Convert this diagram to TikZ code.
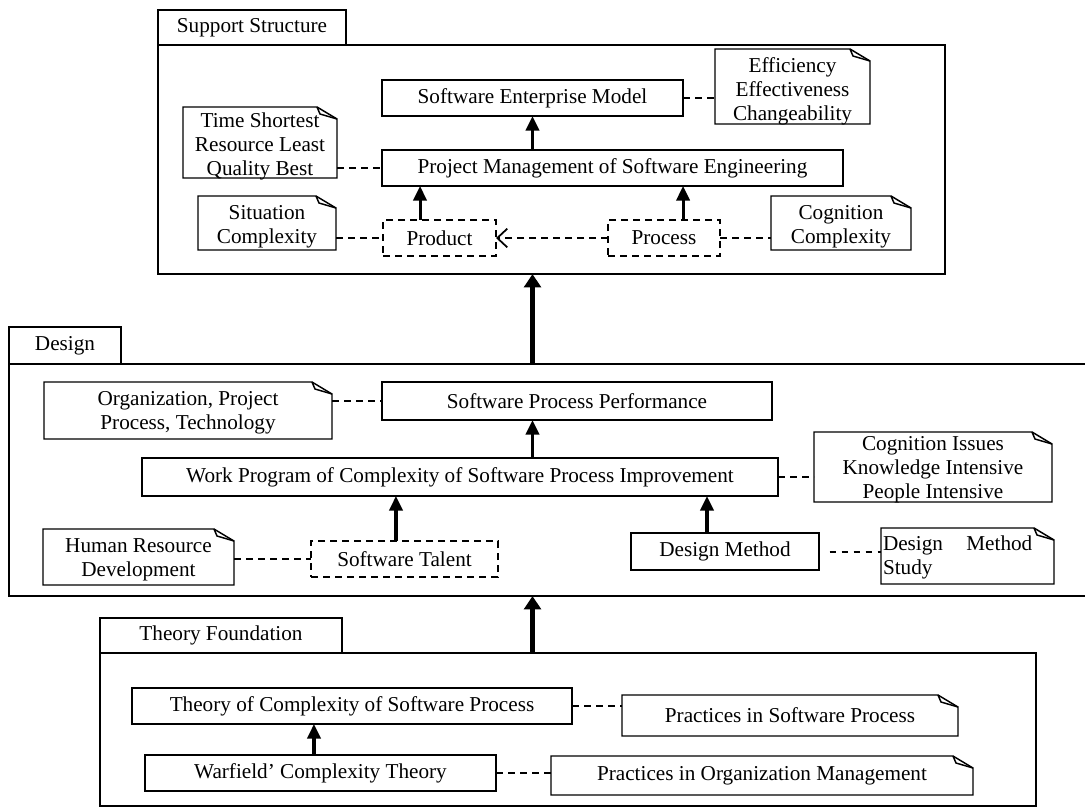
\documentclass[tikz,border=0pt]{standalone}
\usepackage{fontspec}
\setmainfont{Liberation Serif}
\usetikzlibrary{arrows.meta}

% place a rectangular node by its left, top, right and bottom edges (in px)
\newcommand\pxnode[7]{%
  \node[#6, minimum width={(#4-#2)*0.75pt}, minimum height={(#5-#3)*0.75pt}]
    (#1) at ({(#2+#4)/2},{(#3+#5)/2}) {#7};}

% outline of a note: rectangle with a dog-ear fold at the top right corner
\newcommand\noteoutline[1]{%
  \draw[frame] (#1.south west) -- (#1.north west) -- ([xshift=-15pt]#1.north east)
    -- ([yshift=-9pt]#1.north east) -- (#1.south east) -- cycle;
  \draw[frame] ([xshift=-15pt]#1.north east) -- ([xshift=-12.75pt,yshift=-5.25pt]#1.north east)
    -- ([yshift=-9pt]#1.north east);}

% a note: outline node plus its text, set slightly below the middle
\newcommand\notebox[7][2.25pt]{%
  \pxnode{#2}{#3}{#4}{#5}{#6}{}{}
  \noteoutline{#2}
  \node[notetext, yshift=-#1] (#2-text) at (#2.center) {#7};}

\begin{document}
\begin{tikzpicture}[x=0.75pt,y=-0.75pt,
  every node/.style={font=\fontsize{15.9pt}{18pt}\selectfont, inner sep=0pt, outer sep=0pt},
  frame/.style={draw, line width=1.1pt, line join=miter},
  box/.style={frame, align=center},
  dbox/.style={draw, line width=1.3pt, dash pattern=on 5.5pt off 3.5pt, align=center},
  notetext/.style={align=center},
  tab/.style={frame},
  link/.style={line width=1.5pt, dash pattern=on 5pt off 4pt},
  openarrow/.style={-{Straight Barb[length=7.5pt,width=14pt,line width=1.3pt]}},
  flow/.style={line width=2.3pt, -{Triangle[length=11pt,width=10pt]}},
  bigflow/.style={line width=3.6pt, -{Triangle[length=10pt,width=12.5pt]}}]
\useasboundingbox (0,0) rectangle (1085,808);

% ---------------- Support Structure package ----------------
\pxnode{supptab}{158}{10}{346}{45}{tab}{Support Structure}
\pxnode{supp}{158}{45}{945}{274}{frame}{}

\pxnode{sem}{382}{80}{683}{116}{box}{Software Enterprise Model}
\pxnode{pm}{382}{150}{843}{186}{box}{Project Management of Software Engineering}
\pxnode{product}{383}{220}{496}{256}{dbox}{Product}
\pxnode{process}{608}{220}{720}{256}{dbox}{Process}

\notebox[3.8pt]{eff}{715}{49}{870}{124}{Efficiency\\Effectiveness\\Changeability}
\notebox[2.6pt]{time}{183}{107}{337}{178}{Time Shortest\\Resource Least\\Quality Best}
\notebox[3pt]{sit}{198}{196}{336}{250}{Situation\\Complexity}
\notebox[3pt]{cog}{771}{196}{911}{250}{Cognition\\Complexity}

\draw[flow] (sem |- pm.north) -- (sem.south);
\draw[flow] ([xshift=-14.6pt]product.north) -- ([xshift=-14.6pt]product.north |- pm.south);
\draw[flow] ([xshift=14.3pt]process.north) -- ([xshift=14.3pt]process.north |- pm.south);
\draw[link] (sem.east) -- (eff.west |- sem.east);
\draw[link] (time.east |- pm.west) -- (pm.west);
\draw[link] (sit.east |- product.west) -- (product.west);
\draw[link, openarrow] (process.west) -- (product.east);
\draw[link] (process.east) -- (cog.west |- process.east);

% ---------------- Design package ----------------
\pxnode{designtab}{9}{327}{121}{364}{tab}{Design}
\pxnode{design}{9}{364}{1085}{596}{}{}
\draw[frame] (design.north east) -- (design.north west) -- (design.south west) -- (design.south east);

\pxnode{spp}{382}{382}{772}{420}{box}{Software Process Performance}
\pxnode{wp}{142}{458}{778}{496}{box}{Work Program of Complexity of Software Process Improvement}
\pxnode{talent}{311}{541}{498}{577}{dbox}{Software Talent}
\pxnode{dm}{631}{533}{819}{570}{box}{Design Method}

\notebox[1.8pt]{org}{44}{382}{332}{439}{Organization, Project\\Process, Technology}
\notebox[1.8pt]{cogi}{814}{432}{1052}{502}{Cognition Issues\\Knowledge Intensive\\People Intensive}
\notebox[1.8pt]{hr}{43}{529}{234}{585}{Human Resource\\Development}
\pxnode{dms}{881}{528}{1054}{584}{}{}
\noteoutline{dms}
\node[anchor=west, xshift=1.5pt, yshift=-0.8pt] (dms-text) at (dms.west)
  {\parbox{112pt}{\raggedright Design\hfill Method\\Study}};

\draw[flow] (sem |- wp.north) -- (sem |- spp.south);
\draw[flow] ([xshift=-6.4pt]talent.north) -- ([xshift=-6.4pt]talent.north |- wp.south);
\draw[flow] ([xshift=-13.5pt]dm.north) -- ([xshift=-13.5pt]dm.north |- wp.south);
\draw[link] (org.east |- spp.west) -- (spp.west);
\draw[link] (wp.east) -- (cogi.west |- wp.east);
\draw[link] (hr.east |- talent.west) -- (talent.west);
\draw[link] ([xshift=8pt]dm.east) -- (dms.west |- dm.east);

% ---------------- Theory Foundation package ----------------
\pxnode{theotab}{100}{618}{342}{653}{tab}{Theory Foundation}
\pxnode{theo}{100}{653}{1036}{806}{frame}{}

\pxnode{toc}{132}{688}{572}{724}{box}{Theory of Complexity of Software Process}
\pxnode{warf}{145}{755}{496}{791}{box}{Warfield’ Complexity Theory}
\notebox[0pt]{psp}{622}{695}{958}{736}{Practices in Software Process}
\notebox[0pt]{pom}{551}{756}{973}{795}{Practices in Organization Management}

\draw[flow] ([xshift=-4.9pt]warf.north) -- ([xshift=-4.9pt]warf.north |- toc.south);
\draw[link] (toc.east) -- (psp.west |- toc.east);
\draw[link] (warf.east) -- (pom.west |- warf.east);

% ---------------- links between the packages ----------------
\draw[bigflow] (sem |- design.north) -- (sem |- supp.south);
\draw[bigflow] (sem |- theo.north) -- (sem |- design.south);
\end{tikzpicture}
\end{document}
